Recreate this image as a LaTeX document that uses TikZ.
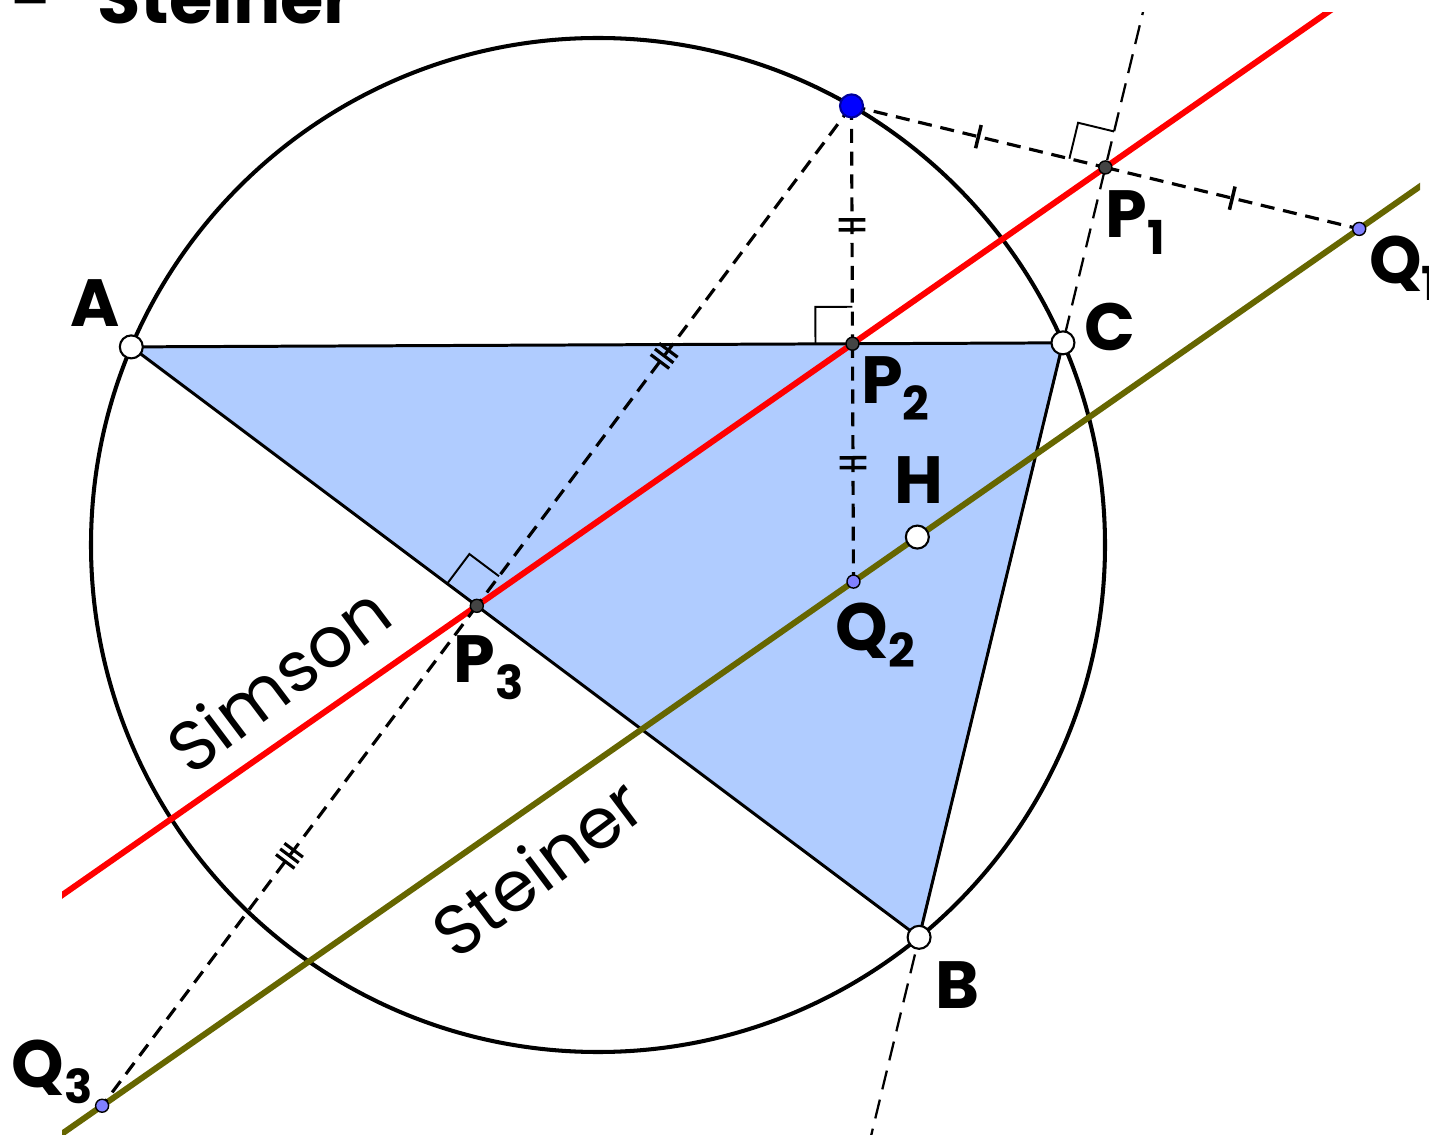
\documentclass[tikz,border=0pt]{standalone}
\usepackage{fontspec}
\setmainfont{Poppins}
\usepackage{tikz}
\usetikzlibrary{calc, positioning, decorations.markings}
\definecolor{simsonred}{RGB}{255, 0, 0}
\definecolor{steinerolive}{RGB}{102, 102, 0}
\definecolor{trifill}{RGB}{176, 204, 255}
\definecolor{footgray}{RGB}{68, 68, 68}
\definecolor{reflblue}{RGB}{128, 128, 255}
\definecolor{pointblue}{RGB}{0, 0, 255}
\newcommand{\lblsub}[1]{\raisebox{-0.45ex}{\scalebox{0.7}{#1}}}

\begin{document}
\begin{tikzpicture}[
    lbl/.style={font=\fontsize{19}{22}\selectfont\bfseries, inner sep=0pt},
    linename/.style={font=\fontsize{20}{24}\selectfont, rotate=37, inner sep=0pt},
    freept/.style={circle, draw=black, line width=0.6pt, fill=white,
                   minimum size=0.23cm, inner sep=0pt},
    bluept/.style={freept, fill=pointblue, draw=pointblue!60!black},
    footpt/.style={circle, draw=black, line width=0.4pt, fill=footgray,
                   minimum size=0.13cm, inner sep=0pt},
    reflpt/.style={footpt, fill=reflblue},
    perp/.style={line width=0.9pt, dash pattern=on 4pt off 2.5pt},
    rightang/.style={line width=0.55pt},
    onetick/.style={postaction={decorate, decoration={markings,
        mark=at position 0.5 with {\draw[solid, line width=1pt] (0,-3.4pt) -- (0,3.4pt);}}}},
    twotick/.style={postaction={decorate, decoration={markings,
        mark=at position 0.5 with {\draw[solid, line width=1pt] (-1.4pt,-3.8pt) -- (-1.4pt,3.8pt)
                                                 (1.4pt,-3.8pt) -- (1.4pt,3.8pt);}}}},
    threetick/.style={postaction={decorate, decoration={markings,
        mark=at position 0.5 with {\draw[solid, line width=0.9pt] (-2pt,-3.3pt) -- (-2pt,3.3pt)
                                                 (0pt,-3.3pt) -- (0pt,3.3pt)
                                                 (2pt,-3.3pt) -- (2pt,3.3pt);}}}}
]
\clip (0,0) rectangle (14.29,11.34);

% Circumcircle and triangle
\coordinate (O) at (5.98,5.89);
\coordinate (A) at ($(O)+(157:5.07)$);
\coordinate (B) at ($(O)+(-50.7:5.07)$);
\coordinate (C) at ($(O)+(23.5:5.07)$);
\coordinate (P) at ($(O)+(60:5.07)$);
\coordinate (T) at ($(B)!1.6!(C)$);

% Feet and reflections
\coordinate (P1) at ($(B)!(P)!(C)$);
\coordinate (P2) at ($(A)!(P)!(C)$);
\coordinate (P3) at ($(A)!(P)!(B)$);
\coordinate (Q1) at ($(P)!2!(P1)$);
\coordinate (Q2) at ($(P)!2!(P2)$);
\coordinate (Q3) at ($(P)!2!(P3)$);
\coordinate (H) at ($(A)+(B)+(C)-2*(O)$);

\fill[trifill] (A) -- (B) -- (C) -- cycle;
\draw[line width=1.15pt] (O) circle (5.07);
\draw[line width=0.85pt] (A) -- (B) -- (C) -- cycle;

% Lines
\begin{scope}
\clip (0.62,0) rectangle (14.20,11.21);
\draw[line width=0.65pt, dash pattern=on 5.5pt off 3pt] ($(B)!-0.5!(C)$) -- (T);
\draw[simsonred, line width=1.7pt] ($(P3)!-2!(P2)$) -- ($(P3)!3.5!(P2)$);
\draw[steinerolive, line width=1.7pt] ($(Q3)!-0.3!(Q2)$) -- ($(Q3)!2!(Q2)$);
\end{scope}

% Perpendiculars
\draw[perp, onetick] (P) -- (P1);
\draw[perp, onetick] (P1) -- (Q1);
\draw[perp, twotick] (P) -- (P2);
\draw[perp, twotick] (P2) -- (Q2);
\draw[perp, threetick] (P) -- (P3);
\draw[perp, threetick] (P3) -- (Q3);

\foreach \f/\v in {P1/T, P2/A, P3/A} {
  \coordinate (ra) at ($(\f)!0.37cm!(P)$);
  \coordinate (rb) at ($(\f)!0.37cm!(\v)$);
  \draw[rightang] (ra) -- ($(ra)+(rb)-(\f)$) -- (rb);
}

% Points
\node[freept] (ptA) at (A) {};
\node[freept] (ptB) at (B) {};
\node[freept] (ptC) at (C) {};
\node[freept] (ptH) at (H) {};
\node[bluept] (ptP) at (P) {};
\node[footpt] (ptP1) at (P1) {};
\node[footpt] (ptP2) at (P2) {};
\node[footpt] (ptP3) at (P3) {};
\node[reflpt] (ptQ1) at (Q1) {};
\node[reflpt] (ptQ2) at (Q2) {};
\node[reflpt] (ptQ3) at (Q3) {};

% Labels
\node[lbl] (labA) at ($(A)+(-0.36,0.44)$) {A};
\node[lbl] (labB) at ($(B)+(0.38,-0.48)$) {B};
\node[lbl] (labC) at ($(C)+(0.47,0.16)$) {C};
\node[lbl] (labH) at ($(H)+(0.02,0.57)$) {H};
\node[lbl] (labP1) at ($(P1)+(0.30,-0.55)$) {P\lblsub{1}};
\node[lbl] (labP2) at ($(P2)+(0.43,-0.45)$) {P\lblsub{2}};
\node[lbl] (labP3) at ($(P3)+(0.12,-0.62)$) {P\lblsub{3}};
\node[lbl] (labQ1) at ($(Q1)+(0.45,-0.39)$) {Q\lblsub{1}};
\node[lbl] (labQ2) at ($(Q2)+(0.22,-0.54)$) {Q\lblsub{2}};
\node[lbl] (labQ3) at ($(Q3)+(-0.50,0.34)$) {Q\lblsub{3}};

\node[linename] (simson) at (2.78,4.55) {Simson};
\node[linename] (steiner) at (5.37,2.67) {Steiner};
\node[font=\fontsize{20}{24}\selectfont\bfseries, anchor=base west, inner sep=0pt]
  (title) at (0.11,11.1) {-\hspace{0.45cm}Steiner};

\end{tikzpicture}
\end{document}
